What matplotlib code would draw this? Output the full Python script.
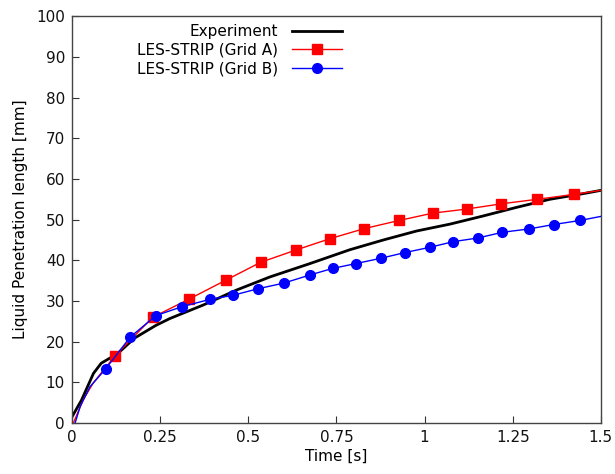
import matplotlib
matplotlib.use("Agg")
import matplotlib.pyplot as plt

# Experiment
exp_t = [0.0, 0.027, 0.061, 0.083, 0.13, 0.178, 0.238, 0.278, 0.372, 0.467, 0.561,
         0.675, 0.788, 0.883, 0.977, 1.072, 1.166, 1.26, 1.355, 1.45, 1.5]
exp_v = [1.5, 5.6, 12.2, 14.7, 17.1, 20.9, 24.0, 25.7, 29.0, 32.7, 35.9,
         39.2, 42.6, 45.0, 47.2, 48.9, 50.9, 53.0, 55.0, 56.4, 57.2]

# LES-STRIP (Grid A)
a_t = [0.004, 0.032, 0.06, 0.122, 0.229, 0.333, 0.436, 0.535, 0.634, 0.731, 0.829,
       0.928, 1.023, 1.119, 1.218, 1.319, 1.423, 1.5]
a_v = [0.0, 5.7, 9.8, 16.5, 26.0, 30.5, 35.1, 39.5, 42.5, 45.3, 47.8,
       49.8, 51.6, 52.6, 53.9, 55.0, 56.2, 57.2]
a_marker_idx = list(range(3, 17))

# LES-STRIP (Grid B)
b_t = [0.009, 0.023, 0.051, 0.0955, 0.165, 0.238, 0.312, 0.391, 0.457, 0.527, 0.601,
       0.675, 0.739, 0.805, 0.876, 0.944, 1.015, 1.082, 1.152, 1.221, 1.295, 1.366,
       1.441, 1.5]
b_v = [0.0, 4.0, 8.9, 13.3, 21.1, 26.4, 28.6, 30.4, 31.4, 33.0, 34.4,
       36.4, 38.0, 39.2, 40.5, 41.9, 43.2, 44.6, 45.5, 46.9, 47.7, 48.8,
       49.8, 50.8]
b_marker_idx = list(range(3, 23))

x_ticks = [0, 0.25, 0.5, 0.75, 1, 1.25, 1.5]
x_tick_labels = ["0", "0.25", "0.5", "0.75", "1", "1.25", "1.5"]
y_ticks = [0, 10, 20, 30, 40, 50, 60, 70, 80, 90, 100]

plt.rcParams['font.family'] = ['DejaVu Sans']
fig = plt.figure(figsize=(6.15, 4.74), dpi=100)
ax = fig.add_axes([0.117, 0.1076, 0.860, 0.858])

ax.plot(exp_t, exp_v, color="black", lw=2.0, label="Experiment", zorder=2)
ax.plot(a_t, a_v, color="red", lw=1.0, marker="s", ms=6.5, markevery=a_marker_idx,
        label="LES-STRIP (Grid A)", zorder=3)
ax.plot(b_t, b_v, color="blue", lw=1.0, marker="o", ms=7, markevery=b_marker_idx,
        label="LES-STRIP (Grid B)", zorder=3)

ax.set_xlim(0, 1.5)
ax.set_ylim(0, 100)
ax.set_xticks(x_ticks)
ax.set_xticklabels(x_tick_labels)
ax.set_yticks(y_ticks)
ax.tick_params(direction="in", length=5, labelsize=11, color="#333333",
               labelcolor="#111111", top=False, right=False, pad=5)
for s in ax.spines.values():
    s.set_color("#444444")
    s.set_linewidth(1.0)

ax.set_xlabel("Time [s]", fontsize=11, labelpad=3)
ax.set_ylabel("Liquid Penetration length [mm]", fontsize=11, labelpad=6)

ax.legend(loc="upper right", bbox_to_anchor=(0.525, 1.0), frameon=False,
          markerfirst=False, fontsize=11, handlelength=3.3, labelspacing=0.25,
          borderaxespad=0.2, borderpad=0.3, handletextpad=0.9)

fig.savefig("out.png", dpi=100)
